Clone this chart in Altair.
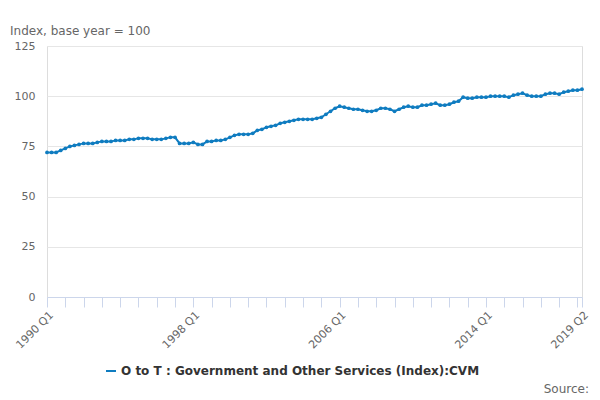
import pandas as pd
import altair as alt

series_name = "O to T : Government and Other Services (Index):CVM"
years = list(range(1990, 2020))
values = [
    72, 72, 72, 73,
    74, 75, 75.5, 76,
    76.5, 76.5, 76.5, 77,
    77.5, 77.5, 77.5, 78,
    78, 78, 78.5, 78.5,
    79, 79, 79, 78.5,
    78.5, 78.5, 79, 79.5,
    79.5, 76.5, 76.5, 76.5,
    77, 76, 76, 77.5,
    77.5, 78, 78, 78.5,
    79.5, 80.5, 81, 81,
    81, 81.5, 83, 83.5,
    84.5, 85, 85.5, 86.5,
    87, 87.5, 88, 88.5,
    88.5, 88.5, 88.5, 89,
    89.5, 91, 92.5, 94,
    95, 94.5, 94, 93.5,
    93.5, 93, 92.5, 92.5,
    93, 94, 94, 93.5,
    92.5, 93.5, 94.5, 95,
    94.5, 94.5, 95.5, 95.5,
    96, 96.5, 95.5, 95.5,
    96, 97, 97.5, 99.5,
    99, 99, 99.5, 99.5,
    99.5, 100, 100, 100,
    100, 99.5, 100.5, 101,
    101.5, 100.5, 100, 100,
    100, 101, 101.5, 101.5,
    101, 102, 102.5, 103,
    103, 103.5,
]
labels = [f"{y} Q{q}" for y in years for q in range(1, 5)][: len(values)]
shown = ["1990 Q1", "1998 Q1", "2006 Q1", "2014 Q1", "2019 Q2"]

df = pd.DataFrame({"i": range(len(values)), "period": labels, "value": values, "series": series_name})

tick_vals = list(range(0, len(values), 4)) + [len(values) - 1]
expr = " : ".join(f"datum.value == {i} ? '{labels[i]}'" for i in tick_vals if labels[i] in shown) + " : ''"

W, H = 535, 251

base = alt.Chart(df).encode(
    x=alt.X("i:Q", title=None, scale=alt.Scale(domain=[0, len(values) - 1], nice=False),
            axis=alt.Axis(values=tick_vals, labelExpr=expr, labelAngle=-45, grid=False,
                          tickColor="#ccd6eb", domainColor="#ccd6eb", tickSize=10,
                          labelColor="#666666", labelFontSize=11, labelOverlap=False,
                          labelAlign="right", labelBaseline="top")),
    y=alt.Y("value:Q", title=None, scale=alt.Scale(domain=[0, 125]),
            axis=alt.Axis(values=[0, 25, 50, 75, 100, 125], gridColor="#e6e6e6", domain=False,
                          ticks=False, labelColor="#666666", labelFontSize=11, labelPadding=12)),
    color=alt.Color("series:N", scale=alt.Scale(range=["#0f7cc0"]),
                    legend=alt.Legend(title=None, orient="none", legendX=58, legendY=319,
                                      labelFontSize=12, labelFontWeight="bold",
                                      labelColor="#333333", symbolType="stroke",
                                      symbolStrokeWidth=2, labelLimit=500)),
    tooltip=["period", "value"],
)

lines = base.mark_line(strokeWidth=2) + base.mark_point(filled=True, size=14, opacity=1)

subtitle = alt.Chart(pd.DataFrame({"t": ["Index, base year = 100"]})).mark_text(
    align="left", baseline="middle", fontSize=12, color="#666666"
).encode(text="t:N", x=alt.value(-37), y=alt.value(-15))

source = alt.Chart(pd.DataFrame({"t": ["Source:"]})).mark_text(
    align="right", baseline="middle", fontSize=12, color="#666666"
).encode(text="t:N", x=alt.value(542), y=alt.value(343))

chart = (
    (lines + subtitle + source)
    .properties(
        width=W, height=H,
        autosize=alt.AutoSizeParams(type="none"),
        padding={"left": 39, "top": 38, "right": 10, "bottom": 100},
        title=alt.TitleParams(series_name, anchor="middle", fontSize=17, fontWeight="normal",
                              color="#333333", offset=22, dx=-20),
    )
    .configure_view(stroke=None)
    .configure(font="DejaVu Sans")
)
chart.save("out.html", embed_options={"renderer": "svg", "actions": False})
